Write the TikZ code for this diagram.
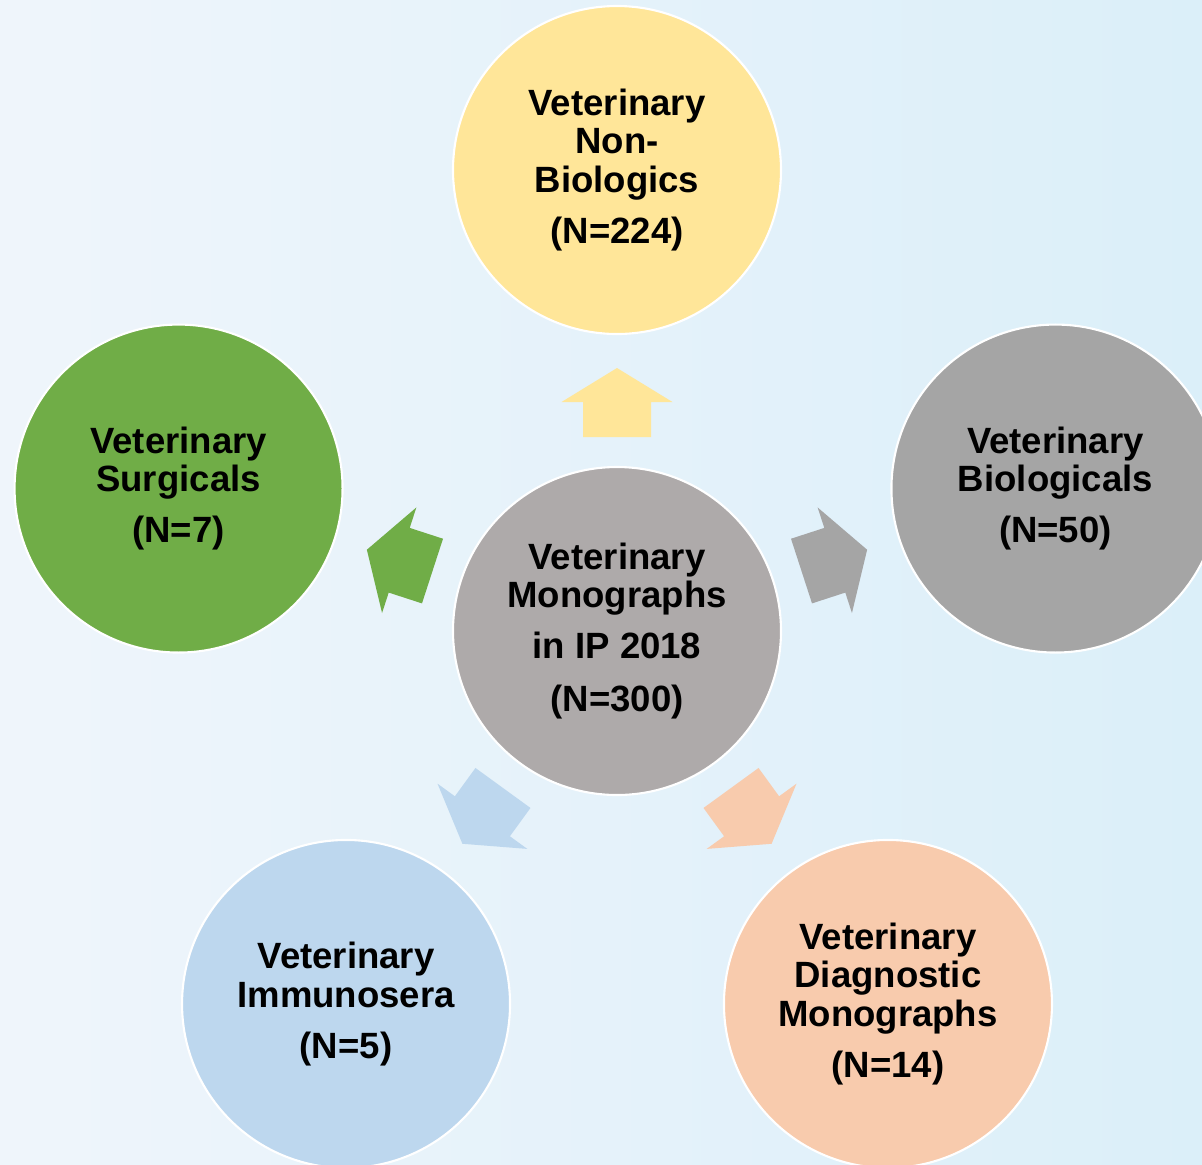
\documentclass[tikz,border=0pt]{standalone}
\usepackage{fontspec}
\setmainfont{Liberation Sans}
\usetikzlibrary{calc}
\definecolor{bgleft}{HTML}{EFF5FB}
\definecolor{bgright}{HTML}{DBEFF9}
\definecolor{hubgray}{HTML}{AEAAAA}
\definecolor{nonbio}{HTML}{FFE699}
\definecolor{biol}{HTML}{A5A5A5}
\definecolor{diag}{HTML}{F8CBAD}
\definecolor{immuno}{HTML}{BDD7EE}
\definecolor{surg}{HTML}{70AD47}
\tikzset{
  monocirc/.style={circle, draw=white, line width=1.2pt, minimum size=6.56cm,
    inner sep=0pt, align=center, font=\bfseries\fontsize{20.8}{22}\selectfont}
}

\begin{document}
\begin{tikzpicture}
  \useasboundingbox (0,0) rectangle (24.04,-23.28);
  \clip (0,0) rectangle (24.04,-23.28);
  \fill[left color=bgleft, right color=bgright] (0,0) rectangle (24.04,-23.28);

  \node[monocirc, fill=hubgray] (hub) at (12.34,-12.62)
    {Veterinary\\Monographs\\[7pt]in IP 2018\\[8pt](N=300)};
  \node[monocirc, fill=nonbio] (nonbio) at ($(hub)+(90:9.22)$)
    {Veterinary\\Non-\\Biologics\\[7pt](N=224)};
  \node[monocirc, fill=biol] (biol) at ($(hub)+(18:9.22)$)
    {Veterinary\\Biologicals\\[7pt](N=50)};
  \node[monocirc, fill=diag] (diag) at ($(hub)+(-54:9.22)$)
    {Veterinary\\Diagnostic\\Monographs\\[7pt](N=14)};
  \node[monocirc, fill=immuno] (immuno) at ($(hub)+(-126:9.22)$)
    {Veterinary\\Immunosera\\[7pt](N=5)};
  \node[monocirc, fill=surg] (surg) at ($(hub)+(162:9.22)$)
    {Veterinary\\Surgicals\\[7pt](N=7)};

  % block arrows from the hub
  \foreach \ang/\col in {90/nonbio,18/biol,-54/diag,-126/immuno,162/surg}
    \fill[\col, shift={(hub.center)}, rotate=\ang]
      (3.88,-0.68) -- (4.58,-0.68) -- (4.58,-1.11) -- (5.26,0)
      -- (4.58,1.11) -- (4.58,0.68) -- (3.88,0.68) -- cycle;
\end{tikzpicture}
\end{document}
